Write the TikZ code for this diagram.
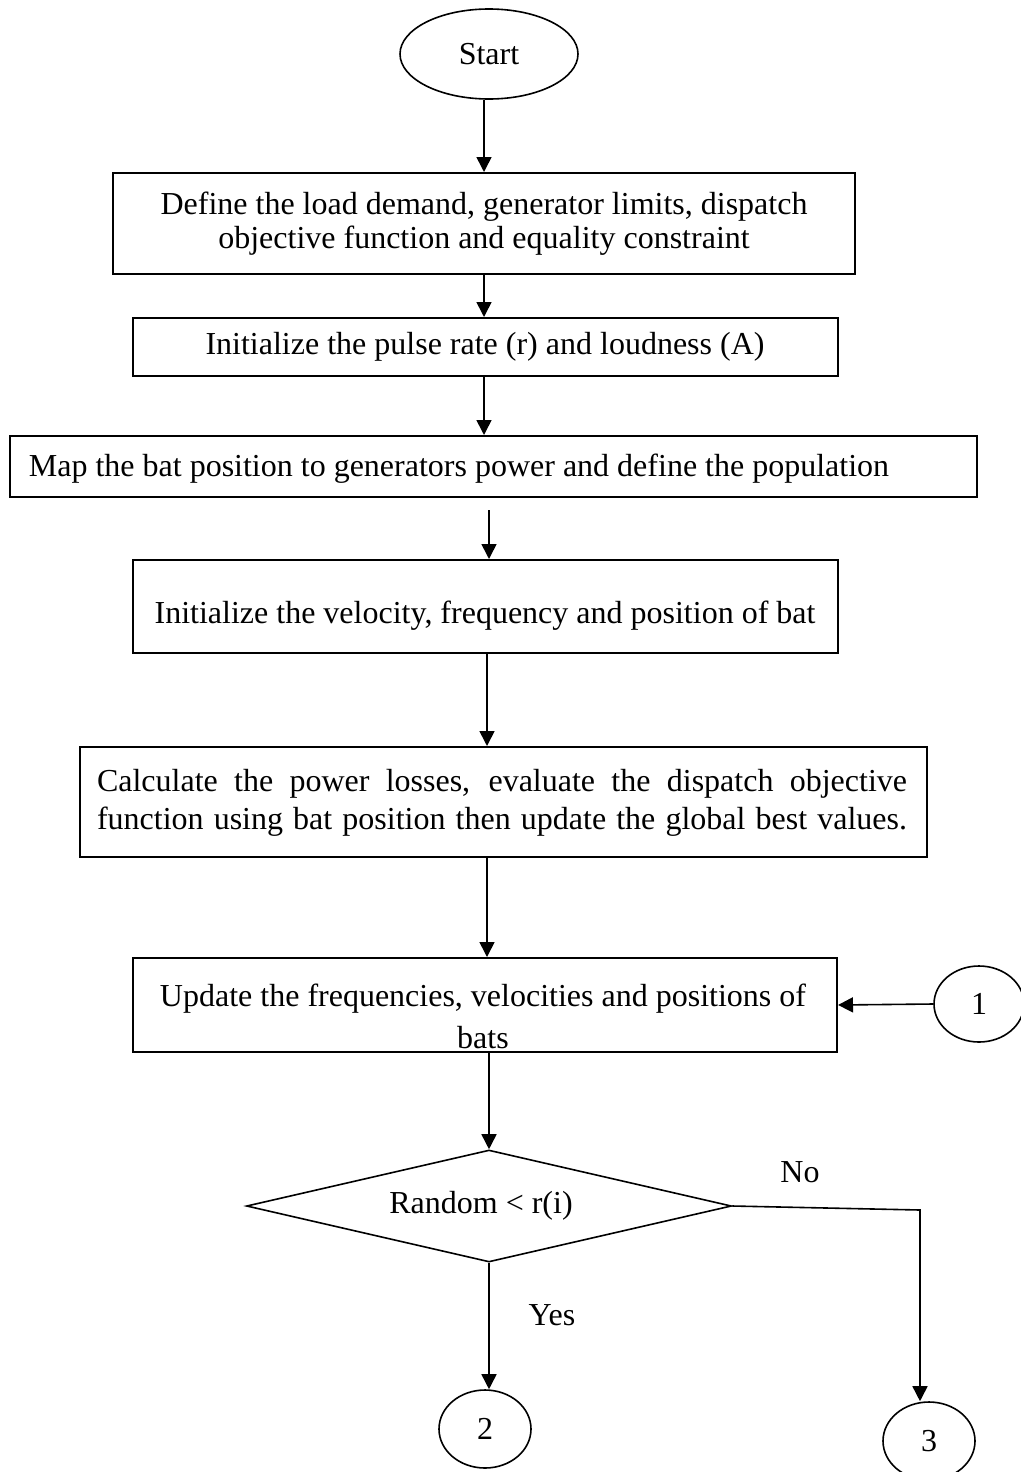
\documentclass[tikz,border=0pt]{standalone}
\usepackage{fontspec}
\setmainfont{Liberation Serif}
\usetikzlibrary{arrows.meta,shapes.geometric,fit}
\begin{document}
\begin{tikzpicture}[x=0.5pt,y=-0.5pt,
  txt/.style={font=\fontsize{16}{17}\selectfont,inner sep=0pt,align=center},
  box/.style={draw,line width=1pt,inner sep=0pt},
  term/.style={draw,ellipse,line width=0.8pt,inner sep=0pt,font=\fontsize{16}{17}\selectfont},
  arr/.style={-{Triangle[length=7.5pt,width=7.5pt]},line width=0.8pt}]
\useasboundingbox (0,0) rectangle (1021,1472);
\clip (0,0) rectangle (1021,1472);

% terminal
\node[term,minimum width=89pt,minimum height=45pt] (start) at (489,54) {Start};

% process boxes
\node[box,fit={(113,173) (855,274)}] (b1) {};
\node[txt] (b1t) at (484,224)
  {Define the load demand, generator limits, dispatch\\objective function and equality constraint};
\node[box,fit={(133,318) (838,376)}] (b2) {};
\node[txt] (b2t) at (485,347) {Initialize the pulse rate (r) and loudness (A)};
\node[box,fit={(10,436) (977,497)}] (b3) {};
\node[txt] (b3t) at (459,469) {Map the bat position to generators power and define the population};
\node[box,fit={(133,560) (838,653)}] (b4) {};
\node[txt] (b4t) at (485,616) {Initialize the velocity, frequency and position of bat};
\node[box,fit={(80,747) (927,857)}] (b5) {};
\node[txt,align=left,font=\fontsize{16}{19}\selectfont] (b5t) at (502,803)
  {\makebox[405pt][s]{Calculate the power losses, evaluate the dispatch objective}\\
   \makebox[405pt][s]{function using bat position then update the global best values.}};
\node[box,fit={(133,958) (837,1052)}] (b6) {};
\node[txt,font=\fontsize{16}{21}\selectfont] (b6t) at (483,1016)
  {Update the frequencies, velocities and positions of\\bats};

% decision
\node[draw,diamond,line width=0.8pt,inner sep=0pt,minimum width=242.5pt,minimum height=56pt] (dec) at (489,1206) {};
\node[txt] (dect) at (481,1206) {Random < r(i)};

% connectors
\node[term,minimum width=45pt,minimum height=38pt] (k1) at (979,1004) {1};
\node[term,minimum width=46pt,minimum height=39pt] (k2) at (485,1429) {2};
\node[term,minimum width=46pt,minimum height=39pt] (k3) at (929,1441) {3};

\node[txt] (yes) at (552,1315) {Yes};
\node[txt] (no) at (800,1172) {No};

% arrows
\coordinate (xa) at (484,0);
\coordinate (xb) at (489,0);
\coordinate (xc) at (487,0);
\coordinate (xd) at (489,0);
\coordinate (nocorner) at (920,1210);

\draw[arr] (start.south -| xa) -- (b1.north -| xa);
\draw[arr] (b1.south -| xa) -- (b2.north -| xa);
\draw[arr] (b2.south -| xa) -- (b3.north -| xa);
\draw[arr] ([yshift=-6pt]b3.south -| xb) -- (b4.north -| xb);
\draw[arr] (b4.south -| xc) -- (b5.north -| xc);
\draw[arr] (b5.south -| xc) -- (b6.north -| xc);
\draw[arr] (k1.west) -- (b6.east);
\draw[arr] (b6.south -| xd) -- (dec.north);
\draw[arr] (dec.south) -- (dec.south |- k2.north);
\draw[arr] (dec.east) -- (nocorner) -- (nocorner |- k3.north);
\end{tikzpicture}
\end{document}
